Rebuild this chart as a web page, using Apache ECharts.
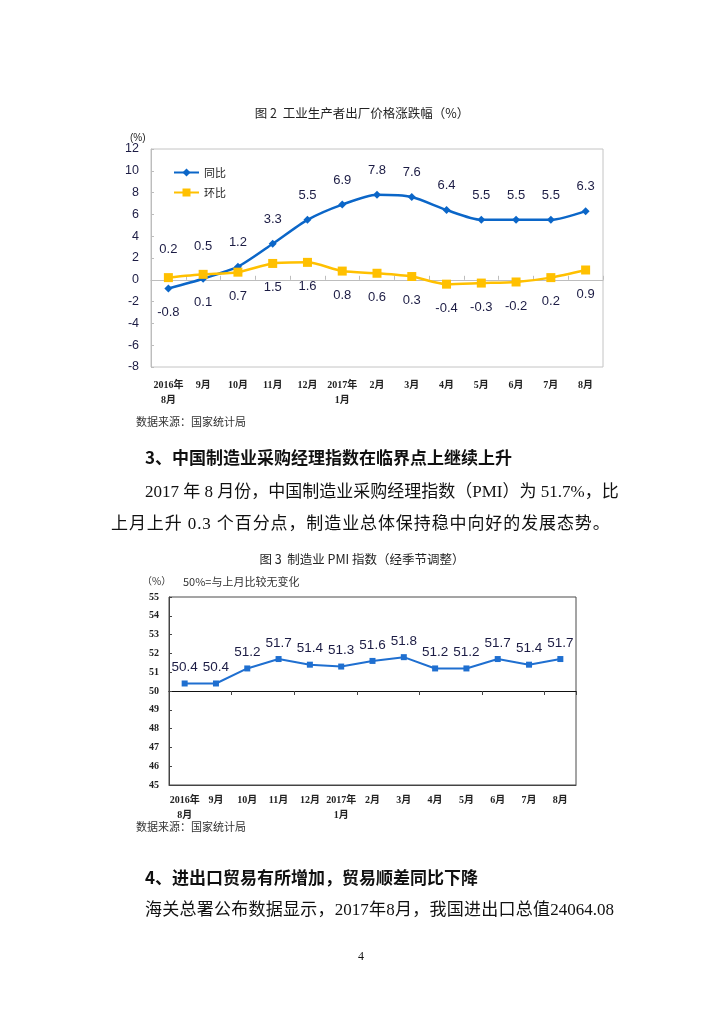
<!DOCTYPE html>
<html>
<head>
<meta charset="utf-8">
<script src="https://cdn.jsdelivr.net/npm/echarts@6/dist/echarts.min.js"></script>
<style>
html,body{margin:0;padding:0;background:#fff;}
#page{position:relative;width:724px;height:1024px;}
#chart{position:absolute;left:0;top:0;width:724px;height:1024px;}
.t{position:absolute;font-family:"Liberation Serif","Noto Sans CJK SC",serif;font-size:17px;color:#111;white-space:nowrap;line-height:20px;}
.h{font-family:"Noto Sans CJK SC",sans-serif;font-weight:bold;}
.j{text-align:justify;text-align-last:justify;}
</style>
</head>
<body>
<div id="page">
<div id="chart"></div>
<div class="t h" style="left:145px;top:447px;">3、中国制造业采购经理指数在临界点上继续上升</div>
<div class="t j" style="left:145px;top:482px;width:469px;">2017 年 8 月份，中国制造业采购经理指数（PMI）为 51.7%，比</div>
<div class="t" style="left:111px;top:514px;letter-spacing:0.9px;">上月上升 0.3 个百分点，制造业总体保持稳中向好的发展态势。</div>
<div class="t h" style="left:145px;top:867px;">4、进出口贸易有所增加，贸易顺差同比下降</div>
<div class="t j" style="left:145px;top:900px;width:469px;">海关总署公布数据显示，2017年8月，我国进出口总值24064.08</div>
<div class="t" style="left:358px;top:946px;font-size:12px;">4</div>
</div>
<script>
// ---- data ----
const categories = ['2016年\n8月','9月','10月','11月','12月','2017年\n1月','2月','3月','4月','5月','6月','7月','8月'];
const ppiYoY = [-0.8, 0.1, 1.2, 3.3, 5.5, 6.9, 7.8, 7.6, 6.4, 5.5, 5.5, 5.5, 6.3];
const ppiMoM = [0.2, 0.5, 0.7, 1.5, 1.6, 0.8, 0.6, 0.3, -0.4, -0.3, -0.2, 0.2, 0.9];
const pmi = [50.4, 50.4, 51.2, 51.7, 51.4, 51.3, 51.6, 51.8, 51.2, 51.2, 51.7, 51.4, 51.7];
const seriesNames = ['同比', '环比'];

// ---- layout / style ----
const g1 = {left:151, top:149, width:452, height:218};
const g2 = {left:169, top:597, width:407, height:188};
const pmiMin = 45, pmiMax = 55, pmiBase = 50;
const numFont = '"Liberation Sans", Arial, sans-serif';
const serif = '"Liberation Serif", "Noto Sans CJK SC", serif';
const cjk = '"Noto Sans CJK SC", sans-serif';
const labelColor = '#1c1c44';

const yoyData = ppiYoY.map((v, i) => ({
  value: v,
  label: i < 2 ? {position:'bottom', distance:13} : {position:'top', distance:14}
}));
const momData = ppiMoM.map((v, i) => ({
  value: v,
  label: i < 2 ? {position:'top', distance:17} : {position:'bottom', distance:13}
}));

const chart = echarts.init(document.getElementById('chart'), null, {renderer:'canvas'});
const xLabel = {interval:0, fontSize:10, fontWeight:'bold', fontFamily:serif, color:'#222', lineHeight:15};
chart.setOption({
  backgroundColor:'#fff',
  animation:false,
  title:[
    {text:'图 2  工业生产者出厂价格涨跌幅（%）', left:'center', top:102, textStyle:{fontSize:12.5, fontWeight:'normal', color:'#222', fontFamily:cjk}},
    {text:'(%)', left:125, top:128, textStyle:{fontSize:10, fontWeight:'normal', color:'#222', fontFamily:numFont}},
    {text:'数据来源：国家统计局', left:131, top:411, textStyle:{fontSize:11, fontWeight:'normal', color:'#333', fontFamily:cjk}},
    {text:'图 3  制造业 PMI 指数（经季节调整）', left:'center', top:548, textStyle:{fontSize:12.5, fontWeight:'normal', color:'#222', fontFamily:cjk}},
    {text:'（%）', left:137, top:571, textStyle:{fontSize:10, fontWeight:'normal', color:'#333', fontFamily:cjk}},
    {text:'50%=与上月比较无变化', left:178, top:571, textStyle:{fontSize:11, fontWeight:'normal', color:'#333', fontFamily:cjk}},
    {text:'数据来源：国家统计局', left:131, top:816, textStyle:{fontSize:11, fontWeight:'normal', color:'#333', fontFamily:cjk}}
  ],
  legend:{
    data:seriesNames, left:168, top:162, orient:'vertical', itemWidth:25, itemHeight:10, itemGap:9,
    textStyle:{fontSize:11, color:'#222', fontFamily:cjk}
  },
  grid:[
    Object.assign({show:true, borderColor:'#C4C4C4', borderWidth:1, containLabel:false}, g1),
    Object.assign({show:true, borderColor:'#4a4a4a', borderWidth:1, containLabel:false}, g2)
  ],
  xAxis:[
    {gridIndex:0, type:'category', data:categories, boundaryGap:true,
     axisLine:{lineStyle:{color:'#BDBDBD'}},
     axisTick:{show:true, inside:true, length:4, lineStyle:{color:'#BDBDBD'}},
     axisLabel:Object.assign({margin:11}, xLabel)},
    {gridIndex:1, type:'category', data:categories, boundaryGap:true,
     axisLine:{lineStyle:{color:'#444'}}, axisTick:{show:false},
     axisLabel:Object.assign({margin:8}, xLabel)},
    {gridIndex:1, type:'category', data:categories, boundaryGap:true,
     offset: -g2.height * (pmiBase - pmiMin) / (pmiMax - pmiMin),
     axisLine:{lineStyle:{color:'#111', width:1.2}},
     axisTick:{show:true, inside:true, length:4, lineStyle:{color:'#444'}},
     axisLabel:{show:false}}
  ],
  yAxis:[
    {gridIndex:0, type:'value', min:-8, max:12, interval:2,
     axisLine:{show:true, lineStyle:{color:'#BDBDBD'}},
     axisTick:{show:true, inside:true, length:3, lineStyle:{color:'#BDBDBD'}},
     splitLine:{show:false},
     axisLabel:{fontSize:12.5, color:labelColor, fontFamily:numFont, margin:12}},
    {gridIndex:1, type:'value', min:pmiMin, max:pmiMax, interval:1,
     axisLine:{show:true, lineStyle:{color:'#444'}},
     axisTick:{show:true, inside:true, length:3, lineStyle:{color:'#444'}},
     splitLine:{show:false},
     axisLabel:{fontSize:10, fontWeight:'bold', color:'#222', fontFamily:serif, margin:10}}
  ],
  series:[
    {name:seriesNames[0], type:'line', xAxisIndex:0, yAxisIndex:0, data:yoyData, smooth:0.25,
     symbol:'diamond', symbolSize:8, itemStyle:{color:'#0B66C8'}, lineStyle:{color:'#0B66C8', width:2.5},
     label:{show:true, fontSize:13, color:labelColor, fontFamily:numFont}},
    {name:seriesNames[1], type:'line', xAxisIndex:0, yAxisIndex:0, data:momData, smooth:0.25,
     symbol:'rect', symbolSize:9, itemStyle:{color:'#FFC000'}, lineStyle:{color:'#FFC000', width:2.5},
     label:{show:true, fontSize:13, color:labelColor, fontFamily:numFont}},
    {name:'PMI', type:'line', xAxisIndex:1, yAxisIndex:1, data:pmi,
     symbol:'rect', symbolSize:6, itemStyle:{color:'#1F6FD0'}, lineStyle:{color:'#1F6FD0', width:2},
     label:{show:true, position:'top', distance:6, fontSize:13.5, color:labelColor, fontFamily:numFont}}
  ]
});
</script>
</body>
</html>
